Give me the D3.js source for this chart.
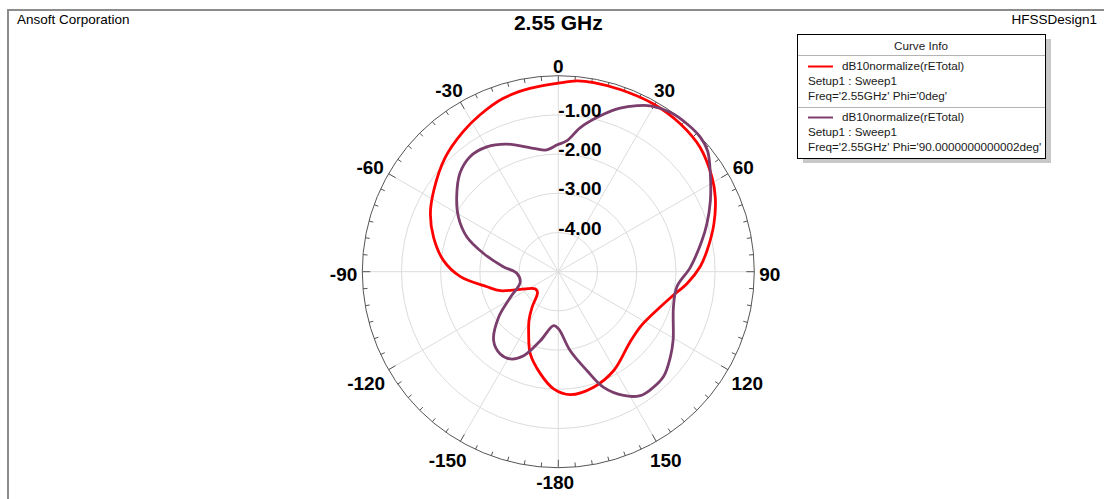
<!DOCTYPE html>
<html>
<head>
<meta charset="utf-8">
<script src="https://cdn.jsdelivr.net/npm/d3@7"></script>
<style>
  body { margin: 0; background: #fff; }
  svg { display: block; font-family: "Liberation Sans", Arial, sans-serif; }
  .ring, .spoke { fill: none; stroke: #dcdcdc; stroke-width: 1; }
  .outer { fill: none; stroke: #555; stroke-width: 1; }
  .tick { stroke: #555; stroke-width: 1; }
  .angle-label, .r-label { font-weight: bold; font-size: 19px; fill: #000; }
  .curve { fill: none; stroke-width: 2.8; stroke-linejoin: round; }
  .legend text { font-size: 11.7px; fill: #1a1a1a; }
</style>
</head>
<body>
<div id="chart"></div>
<script>
//data
const title = "2.55 GHz";
const company = "Ansoft Corporation";
const design = "HFSSDesign1";

const angleTicks = [-180, -150, -120, -90, -60, -30, 0, 30, 60, 90, 120, 150];
const radialTicks = [-4, -3, -2, -1];
const radialDomain = [-5, 0];

// Phi = 0deg (red), angle in deg, value in dB
const phi0Angle = [-177.7, -170, -161.1, -154.4, -148.8, -143.6, -135, -127, -114.8, -108.1, -101.9,
  -92.9, -84.5, -74.6, -65.7, -57, -44.7, -34.2, -26.6, -17.6, -8.8, 0, 5.5, 10.6, 19, 29.6, 39.6,
  48.8, 58.5, 64.7, 73, 82, 88, 95.2, 101.4, 111.2, 123.9, 135, 150.7, 163, 174.4];
const phi0Db = [-2.01, -2.36, -2.79, -3.25, -3.56, -3.87, -4.25, -4.27, -3.93, -3.44, -3.14,
  -2.5, -2.06, -1.7, -1.42, -1.21, -0.9, -0.68, -0.53, -0.36, -0.27, -0.19, -0.11, -0.09, -0.09, -0.08, -0.11,
  -0.19, -0.4, -0.57, -0.85, -1.17, -1.38, -1.7, -2.0, -2.3, -2.48, -2.43, -2.11, -1.92, -1.85];

// Phi = 90deg (purple)
const phi90Angle = [-175, -165.4, -157.6, -151.2, -144.8, -136.8, -127.4, -118.2, -105.7, -92.2, -84.8,
  -76.2, -69.1, -61.2, -53.6, -45, -37.5, -29.8, -22, -11.5, -5.4, -0.7, 3.8, 8.7, 15.1, 20.7, 25.4, 29,
  35.1, 41.1, 46.6, 51, 57.3, 65, 72.2, 78, 88.1, 97.2, 106.9, 120.8, 127.2, 134.9, 142.1, 146.5, 152.2,
  158.6, 163.8, 171.4, 179.7];
const phi90Db = [-3.62, -3.18, -2.68, -2.46, -2.43, -2.59, -3.08, -3.61, -3.99, -3.94, -3.59,
  -3.03, -2.5, -2.09, -1.78, -1.45, -1.3, -1.33, -1.49, -1.79, -1.88, -1.77, -1.65, -1.28, -0.88, -0.54, -0.31, -0.16,
  -0.03, 0, -0.01, -0.1, -0.39, -0.72, -1.02, -1.26, -1.63, -1.95, -1.93, -1.59, -1.41, -1.21, -1.18, -1.21, -1.43,
  -1.83, -2.37, -2.96, -3.54];

const seriesNames = ["dB10normalize(rETotal)", "dB10normalize(rETotal)"];
const seriesSetup = ["Setup1 : Sweep1", "Setup1 : Sweep1"];
const seriesFreq = ["Freq='2.55GHz' Phi='0deg'", "Freq='2.55GHz' Phi='90.0000000000002deg'"];
const seriesColor = ["#ff0000", "#7a3d6c"];

//size
const width = 1104;
const height = 499;
const cx = 558.3;
const cy = 271.7;
const outerR = 196;

//scale
const rScale = d3.scaleLinear().domain(radialDomain).range([0, outerR]);
const aScale = d3.scaleLinear().domain([0, 360]).range([0, 2 * Math.PI]);

const series = [
  phi0Angle.map((a, i) => ({ a, db: phi0Db[i] })),
  phi90Angle.map((a, i) => ({ a, db: phi90Db[i] })),
];

//create element
const svg = d3
  .select("#chart")
  .append("svg")
  .attr("width", width)
  .attr("height", height);

// frame
svg
  .append("path")
  .attr("d", `M8,${height} L8,10 L${width},10`)
  .attr("fill", "none")
  .attr("stroke", "#8c8c8c")
  .attr("stroke-width", 2);

svg.append("text").attr("x", 17).attr("y", 23.5).attr("font-size", 13.5).text(company);
svg
  .append("text")
  .attr("x", 1097)
  .attr("y", 23.5)
  .attr("font-size", 13.5)
  .attr("text-anchor", "end")
  .text(design);
svg
  .append("text")
  .attr("x", cx)
  .attr("y", 29.5)
  .attr("font-size", 21)
  .attr("font-weight", "bold")
  .attr("text-anchor", "middle")
  .text(title);

const plot = svg.append("g").attr("transform", `translate(${cx},${cy})`);

//grid
plot
  .selectAll("circle.ring")
  .data(radialTicks)
  .join("circle")
  .attr("class", "ring")
  .attr("r", (d) => rScale(d));

plot
  .selectAll("line.spoke")
  .data(angleTicks)
  .join("line")
  .attr("class", "spoke")
  .attr("x2", (d) => outerR * Math.sin(aScale(d)))
  .attr("y2", (d) => -outerR * Math.cos(aScale(d)));

plot.append("circle").attr("class", "outer").attr("r", outerR);

plot
  .selectAll("line.tick")
  .data(d3.range(0, 360, 5))
  .join("line")
  .attr("class", "tick")
  .attr("x1", (d) => outerR * Math.sin(aScale(d)))
  .attr("y1", (d) => -outerR * Math.cos(aScale(d)))
  .attr("x2", (d) => (outerR - (d % 30 === 0 ? 8 : 4.5)) * Math.sin(aScale(d)))
  .attr("y2", (d) => -(outerR - (d % 30 === 0 ? 8 : 4.5)) * Math.cos(aScale(d)));

//curves
const radial = d3
  .lineRadial()
  .angle((d) => aScale(d.a))
  .radius((d) => rScale(d.db))
  .curve(d3.curveCatmullRomClosed.alpha(0.5));

plot
  .selectAll("path.curve")
  .data(series)
  .join("path")
  .attr("class", "curve")
  .attr("stroke", (d, i) => seriesColor[i])
  .attr("d", radial);

//labels
plot
  .selectAll("text.r-label")
  .data(radialTicks)
  .join("text")
  .attr("class", "r-label")
  .attr("x", 0)
  .attr("y", (d) => -rScale(d) + 2)
  .text((d) => d.toFixed(2));

// minus sign hangs to the left of the centred number
const minus = plot.append("text").attr("class", "angle-label").text("-");
const minusW = minus.node().getComputedTextLength();
minus.remove();

const angleLabel = plot
  .selectAll("text.angle-label")
  .data(angleTicks)
  .join("text")
  .attr("class", "angle-label")
  .attr("text-anchor", "end")
  .attr("dy", "0.36em")
  .text((d) => d);

angleLabel.each(function (d) {
  const w = this.getComputedTextLength() - (d < 0 ? minusW : 0);
  const s = Math.sin(aScale(d));
  const c = Math.cos(aScale(d));
  const dist = outerR + 5 + Math.abs(s) * w / 2 + Math.abs(c) * 7;
  d3.select(this)
    .attr("x", dist * s + w / 2)
    .attr("y", -dist * c + 2.6);
});

//legend
const lx = 797;
const ly = 34;
const lw = 248;
const lh = 124;
const legend = svg.append("g").attr("class", "legend");

legend
  .append("rect")
  .attr("x", lx + 6)
  .attr("y", ly + 5)
  .attr("width", lw)
  .attr("height", lh)
  .attr("fill", "#c8c8c8");
legend
  .append("rect")
  .attr("x", lx + 0.5)
  .attr("y", ly + 0.5)
  .attr("width", lw)
  .attr("height", lh)
  .attr("fill", "#fff")
  .attr("stroke", "#000");
legend
  .append("text")
  .attr("x", lx + lw / 2)
  .attr("y", ly + 16)
  .attr("text-anchor", "middle")
  .text("Curve Info");
legend
  .append("line")
  .attr("x1", lx + 1)
  .attr("x2", lx + lw)
  .attr("y1", ly + 21.5)
  .attr("y2", ly + 21.5)
  .attr("stroke", "#b4b4b4");

const item = legend
  .selectAll("g.item")
  .data(seriesNames)
  .join("g")
  .attr("class", "item")
  .attr("transform", (d, i) => `translate(${lx},${ly + 22 + i * 51})`);

item
  .filter((d, i) => i > 0)
  .append("line")
  .attr("x1", 1)
  .attr("x2", lw)
  .attr("y1", 0.5)
  .attr("y2", 0.5)
  .attr("stroke", "#b4b4b4");
item
  .append("line")
  .attr("x1", 11)
  .attr("x2", 36)
  .attr("y1", 10.5)
  .attr("y2", 10.5)
  .attr("stroke", (d, i) => seriesColor[i])
  .attr("stroke-width", 2);
item.append("text").attr("x", 45).attr("y", 14).text((d) => d);
item.append("text").attr("x", 11).attr("y", 29).text((d, i) => seriesSetup[i]);
item.append("text").attr("x", 11).attr("y", 44).text((d, i) => seriesFreq[i]);
</script>
</body>
</html>
